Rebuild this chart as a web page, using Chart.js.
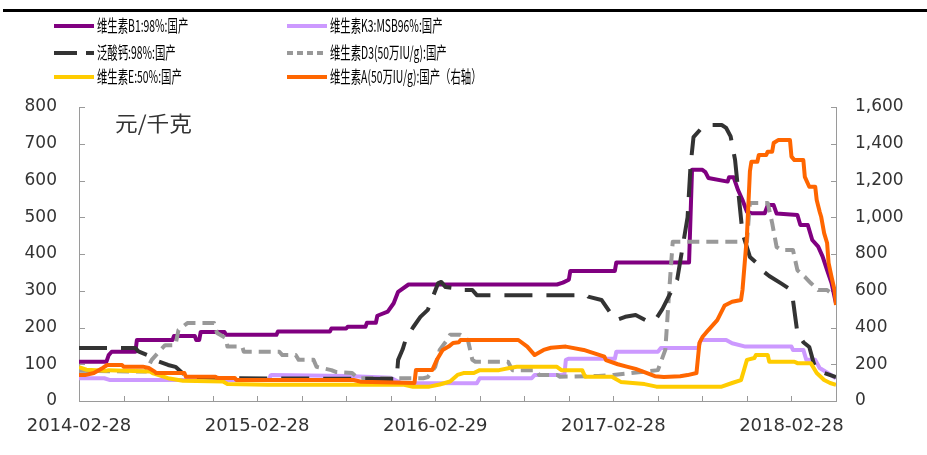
<!DOCTYPE html>
<html><head><meta charset="utf-8">
<script src="https://cdn.jsdelivr.net/npm/chart.js@4/dist/chart.umd.min.js"></script>
<style>
html,body{margin:0;padding:0;background:#fff;}
#wrap{position:relative;width:927px;height:455px;overflow:hidden;}
canvas{display:block;}
#topline{position:absolute;left:3px;right:0;top:9px;height:3px;background:#000;}
</style>
</head><body>
<div id="wrap"><canvas id="c" width="927" height="455"></canvas><div id="topline"></div></div>
<script>
// x values are months since 2014-02-28
const xTickLabels = ['2014-02-28','2015-02-28','2016-02-29','2017-02-28','2018-02-28'];
const seriesNames = ['维生素B1:98%:国产','维生素K3:MSB96%:国产','泛酸钙:98%:国产','维生素D3(50万IU/g):国产','维生素E:50%:国产','维生素A(50万IU/g):国产（右轴）'];

const b1M = [0,1.85,2.0,2.2,3.8,3.9,6.3,6.4,7.8,7.9,8.1,8.2,9.8,9.9,13.3,13.4,16.9,17.0,18.0,18.1,19.3,19.4,20.0,20.1,20.8,21.2,21.5,22.2,32.2,32.6,33.0,33.1,36.1,36.2,41.1,41.3,42.0,42.2,42.4,43.7,43.8,44.1,44.4,44.7,45.0,45.3,46.2,46.4,46.8,47.0,48.4,48.6,49.1,49.4,49.8,50.1,50.4,50.7,51.0];
const b1V = [107,107,125,134,134,166,166,177,177,166,166,188,188,180,180,189,189,197,197,202,202,213,213,232,243,266,297,317,317,322,330,354,354,377,377,629,629,623,607,597,609,609,574,547,515,511,511,533,533,510,506,479,479,438,420,393,356,321,265];

const k3M = [0,1.7,2.1,12.8,12.9,13.0,18,21.0,21.7,26.8,27.0,30.5,30.7,32.7,32.8,33.0,36.1,36.2,39.0,39.2,41.7,41.9,43.6,44.0,44.9,48.0,48.1,48.8,49.0,49.6,49.9,50.5,51.0];
const k3V = [62,62,57,57,69,71,68,63,49,48,62,62,71,71,112,115,115,134,134,144,144,166,166,157,148,148,139,139,112,112,90,75,62];

const caM = [0,3.8,4.0,4.6,5.2,6.0,6.5,7.0,8.0,10,21.3,21.4,21.5,21.8,22.0,22.5,23.0,23.5,23.9,24.2,24.4,24.7,25.3,25.5,26.5,26.8,34.2,34.3,35.2,35.8,36.2,36.8,37.5,38.4,38.9,39.3,40.3,41.0,41.2,41.4,42.0,42.5,43.3,43.6,43.9,44.2,44.7,45.2,45.8,46.0,46.5,47.3,47.8,48.1,48.4,48.8,49.2,49.5,49.7,51.0];
const caV = [144,144,135,125,110,98,93,75,65,62,60,60,112,140,166,200,229,248,290,321,324,310,307,302,302,288,288,284,275,240,220,229,234,215,225,250,330,500,640,718,745,751,751,743,720,656,457,392,370,356,340,320,307,275,185,160,147,103,84,65];

const d3M = [0,4.5,4.9,5.5,5.8,6.5,6.7,7.3,9.1,9.3,9.9,10.0,11.0,11.1,13.5,13.7,14.6,14.8,15.8,16.0,17.0,17.3,18.4,18.8,23.2,23.5,24.0,24.3,24.8,25.0,25.7,26.2,26.5,26.7,28.9,29.2,30.8,31.0,32.2,32.4,35.0,36.0,39.0,39.5,39.8,40.0,45.0,45.2,46.4,46.7,47.0,47.3,48.1,48.4,48.9,49.3,49.8,50.4,51.0];
const d3V = [82,80,112,139,152,152,193,212,212,185,171,148,148,134,134,125,125,112,112,93,84,79,76,62,62,65,93,139,166,180,180,166,112,107,107,84,84,71,71,66,68,71,84,139,321,433,433,539,539,484,419,411,411,356,338,321,302,302,283];

const eM = [0,0.5,1.8,2.0,4.8,5.0,6.0,7.0,9.7,10.0,12.7,21.9,22.5,23.6,24.3,25.0,25.5,25.9,26.6,27.0,28.3,29.0,29.5,32.2,32.5,33.9,34.1,35.9,36.5,38.1,38.9,43.3,44.0,44.6,44.8,45.0,45.5,45.6,46.4,46.5,48.2,48.4,49.3,49.7,50.2,50.6,51.0];
const eV = [92,85,82,84,80,75,62,55,53,46,44,44,39,39,45,53,71,76,76,84,84,90,93,93,84,84,66,66,52,46,39,39,49,57,84,112,117,125,125,107,107,103,103,76,57,49,44];

const aM = [0,0.4,1.0,1.6,1.9,2.9,3.0,4.3,4.7,5.1,5.2,7.1,7.2,9.2,9.3,10.5,10.6,18.5,19.0,22.6,22.7,23.8,24.1,24.5,24.9,25.2,25.6,25.7,29.6,30.2,30.7,31.3,31.8,32.8,34.0,35.4,35.5,36.3,36.9,37.5,38.0,38.8,39.4,40.5,41.0,41.6,41.8,42.0,42.4,43.0,43.5,44.0,44.6,44.7,45.0,45.2,45.3,45.7,45.8,46.3,46.4,46.7,46.8,47.1,47.9,48.0,48.2,48.8,48.9,49.2,49.6,49.7,49.9,50.0,50.2,50.4,50.5,50.7,50.9,51.0];
const aV = [141,141,152,180,196,196,187,187,180,160,152,152,132,132,125,125,114,114,105,98,169,169,223,278,296,316,320,332,332,296,250,278,290,296,278,241,223,200,187,175,160,135,130,135,141,152,316,348,386,440,520,540,550,604,900,1250,1302,1302,1339,1339,1357,1357,1404,1420,1420,1330,1311,1311,1220,1166,1166,1094,1030,1003,914,860,751,675,604,522];

const toXY = (ms, vs) => ms.map((m, i) => ({x: m, y: vs[i]}));
const AXIS = '#9a9a9a', TXT = '#333333';

function ds(i, ms, vs, color, axis, dash, order, legendDash) {
  return {label: seriesNames[i], data: toXY(ms, vs), borderColor: color, backgroundColor: color,
    borderWidth: 4, pointRadius: 0, fill: false, tension: 0, yAxisID: axis,
    borderDash: dash || [], borderJoinStyle: 'round', borderCapStyle: 'butt', order: order,
    legendDash: legendDash || dash || []};
}

const datasets = [
  ds(0, b1M, b1V, '#800080', 'y', null, 4),
  ds(1, k3M, k3V, '#CC99FF', 'y', null, 5),
  ds(2, caM, caV, '#333333', 'y', [28, 14], 2, [23, 9, 8, 9]),
  ds(3, d3M, d3V, '#999999', 'y', [12, 7], 3, [6, 4]),
  ds(4, eM, eV, '#FFCC00', 'y', null, 1),
  ds(5, aM, aV, '#FF6600', 'y1', null, 0)
];

const legendPos = [
  {col: 0, row: 0}, {col: 1, row: 0},
  {col: 0, row: 1}, {col: 1, row: 1},
  {col: 0, row: 2}, {col: 1, row: 2}
];

const overlay = {
  id: 'overlay',
  beforeDatasetsDraw(chart) {
    const {ctx, chartArea: a, scales} = chart;
    ctx.save();
    ctx.strokeStyle = AXIS; ctx.lineWidth = 1;
    ctx.beginPath();
    scales.x.ticks.forEach(t => { const p = Math.round(scales.x.getPixelForValue(t.value)) + 0.5; ctx.moveTo(p, a.bottom); ctx.lineTo(p, a.bottom - 5); });
    scales.y.ticks.forEach(t => { const p = Math.round(scales.y.getPixelForValue(t.value)) + 0.5; ctx.moveTo(a.left, p); ctx.lineTo(a.left + 6, p); });
    scales.y1.ticks.forEach(t => { const p = Math.round(scales.y1.getPixelForValue(t.value)) + 0.5; ctx.moveTo(a.right, p); ctx.lineTo(a.right - 5, p); });
    ctx.stroke();
    ctx.restore();
  },
  afterDraw(chart) {
    const ctx = chart.ctx;
    const colX = [[54, 94, 97], [287, 327, 330]];
    const rowY = [26, 53, 77];
    ctx.save();
    chart.data.datasets.forEach((d, i) => {
      const p = legendPos[i];
      const [x1, x2, tx] = colX[p.col];
      const y = rowY[p.row];
      ctx.strokeStyle = d.borderColor; ctx.lineWidth = 4; ctx.lineCap = 'butt';
      ctx.setLineDash(d.legendDash);
      ctx.beginPath(); ctx.moveTo(x1, y); ctx.lineTo(x2, y); ctx.stroke();
      ctx.setLineDash([]);
      ctx.fillStyle = '#000';
      ctx.font = '17px "Noto Sans CJK SC"';
      ctx.textBaseline = 'middle'; ctx.textAlign = 'left';
      ctx.save(); ctx.translate(tx, y); ctx.scale(0.61, 1); ctx.fillText(d.label, 0, 0); ctx.restore();
    });
    ctx.fillStyle = TXT;
    ctx.font = '21px "Noto Sans CJK SC"';
    ctx.textBaseline = 'middle';
    ctx.save(); ctx.translate(115, 123); ctx.scale(1.08, 1); ctx.fillText('元/千克', 0, 0); ctx.restore();
    ctx.restore();
  }
};

new Chart(document.getElementById('c'), {
  type: 'line',
  data: {datasets},
  plugins: [overlay],
  options: {
    responsive: false, animation: false, devicePixelRatio: 1,
    layout: {padding: {top: 107, left: 0, right: 0, bottom: 0}},
    plugins: {legend: {display: false}, tooltip: {enabled: false}},
    scales: {
      x: {type: 'linear', position: 'bottom', min: 0, max: 51,
        grid: {display: false, drawTicks: false, tickLength: 0},
        border: {display: true, color: AXIS, width: 1},
        ticks: {stepSize: 3, autoSkip: false, maxRotation: 0, padding: 15, color: TXT,
          font: {family: 'DejaVu Sans', size: 18},
          callback: v => (v % 12 === 0 && v / 12 < xTickLabels.length) ? xTickLabels[v / 12] : ''},
        afterFit: s => { s.height = 54; }},
      y: {type: 'linear', position: 'left', min: 0, max: 800,
        grid: {display: false, drawTicks: false, tickLength: 0},
        border: {display: true, color: AXIS, width: 1},
        ticks: {stepSize: 100, padding: 22, color: TXT, font: {family: 'DejaVu Sans', size: 17}},
        afterFit: s => { s.width = 79; }},
      y1: {type: 'linear', position: 'right', min: 0, max: 1600,
        grid: {display: false, drawTicks: false, tickLength: 0},
        border: {display: true, color: AXIS, width: 1},
        ticks: {stepSize: 200, padding: 19, color: TXT, font: {family: 'DejaVu Sans', size: 17},
          callback: v => v.toLocaleString('en-US')},
        afterFit: s => { s.width = 91; }}
    }
  }
});
</script>
</body></html>
